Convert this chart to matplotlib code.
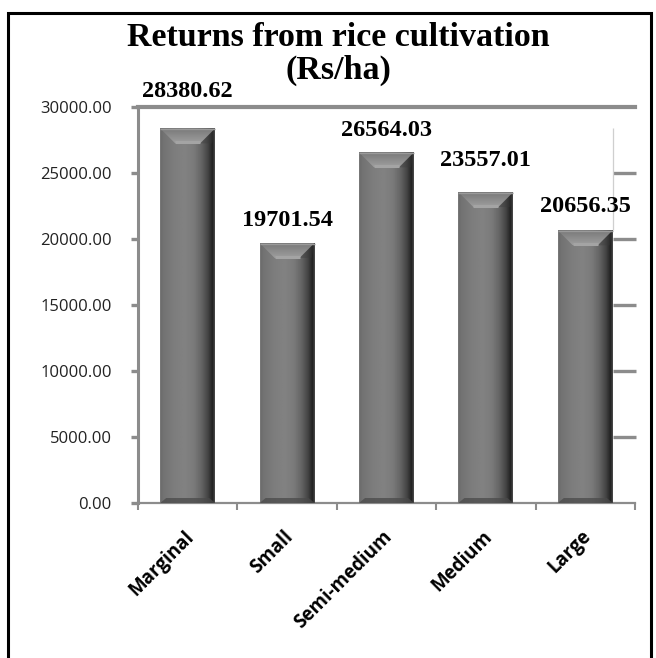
import numpy as np
import matplotlib
matplotlib.use("Agg")
import matplotlib.pyplot as plt
from matplotlib.patches import Rectangle, Polygon
from matplotlib.colors import LinearSegmentedColormap
from matplotlib.transforms import ScaledTranslation

# ---- data -------------------------------------------------------------
categories = ["Marginal", "Small", "Semi-medium", "Medium", "Large"]
returns_rs_ha = [28380.62, 19701.54, 26564.03, 23557.01, 20656.35]
y_ticks = [0, 5000, 10000, 15000, 20000, 25000, 30000]
title_lines = ["Returns from rice cultivation", "(Rs/ha)"]

# ---- styling ----------------------------------------------------------
label_gap_px = [31, 17, 16, 26, 18]     # space between value label and bar top
bar_width = 0.553
axis_grey = "#8c8c8c"
serif = ["Liberation Serif", "DejaVu Serif"]
sans = ["Open Sans", "DejaVu Sans"]

W, H, DPI = 656, 658, 100
fig = plt.figure(figsize=(W / DPI, H / DPI), dpi=DPI)
fig.patch.set_facecolor("white")

# plot area in pixels: left 138, right 635, top 107, bottom 503
ax_l, ax_r, ax_t, ax_b = 138, 635, 107, 503
ax = fig.add_axes([ax_l / W, 1 - ax_b / H, (ax_r - ax_l) / W, (ax_b - ax_t) / H])
ax.set_autoscale_on(False)
ymin, ymax = 0, 30000
xmin, xmax = -0.5, len(categories) - 0.5
ax.set_xlim(xmin, xmax)
ax.set_ylim(ymin, ymax)

px_x = (xmax - xmin) / (ax_r - ax_l)   # data units per pixel
px_y = (ymax - ymin) / (ax_b - ax_t)

x = np.arange(len(categories))
bars = ax.bar(x, returns_rs_ha, width=bar_width, color="#7a7a7a",
              edgecolor="none", zorder=2)

# horizontal shading across each bar (cylinder-like bevel)
stops = [(0.00, 0.50), (0.02, 0.42), (0.06, 0.45), (0.25, 0.49),
         (0.45, 0.51), (0.62, 0.48), (0.76, 0.39), (0.88, 0.26),
         (0.96, 0.13), (1.00, 0.30)]
grey_map = LinearSegmentedColormap.from_list("grey", ["black", "white"])
xs = np.linspace(0, 1, 200)
profile = np.interp(xs, [s[0] for s in stops], [s[1] for s in stops])
body = profile[np.newaxis, :]

top_h = 15 * px_y
top_in = 15 * px_x
bot_h = 5 * px_y
bot_in = 6 * px_x
# chamfer shading: darker at the top edge, lighter towards its lower rim
chamfer = np.linspace(0.47, 0.62, 50)[:, np.newaxis] * np.ones((1, 2))

for rect in bars:
    x0 = rect.get_x()
    x1 = x0 + rect.get_width()
    h = rect.get_height()
    im = ax.imshow(body, cmap=grey_map, vmin=0, vmax=1, aspect="auto",
                   extent=[x0, x1, 0, h], interpolation="bilinear", zorder=3)
    im.set_clip_path(rect)

    # top chamfer
    top_poly = Polygon([(x0, h), (x1, h), (x1 - top_in, h - top_h),
                        (x0 + top_in, h - top_h)], closed=True,
                       facecolor="none", edgecolor="none", zorder=4)
    ax.add_patch(top_poly)
    tim = ax.imshow(chamfer, cmap=grey_map, vmin=0, vmax=1, aspect="auto",
                    extent=[x0, x1, h - top_h, h], interpolation="bilinear",
                    zorder=4)
    tim.set_clip_path(top_poly)
    # light rim along the bottom of the chamfer
    ax.plot([x0 + top_in, x1 - top_in], [h - top_h + 1.2 * px_y] * 2,
            color="#a4a4a4", lw=2.2, solid_capstyle="butt", zorder=5)
    # right slope of chamfer, darker
    ax.add_patch(Polygon([(x1, h), (x1 - top_in, h - top_h),
                          (x1 - top_in * 0.2, h - top_h)], closed=True,
                         facecolor="#3a3a3a", alpha=0.35, edgecolor="none",
                         zorder=4))
    # thin light edge along the top
    ax.plot([x0, x1], [h - 0.6 * px_y] * 2, color="#9a9a9a", lw=1.0,
            solid_capstyle="butt", zorder=5)
    # bottom chamfer
    ax.add_patch(Polygon([(x0, 0), (x1, 0), (x1 - bot_in, bot_h),
                          (x0 + bot_in, bot_h)], closed=True,
                         facecolor="#4a4a4a", alpha=0.75, edgecolor="none",
                         zorder=4))

# value labels above the bars
for rect, val, gap in zip(bars, returns_rs_ha, label_gap_px):
    ax.annotate(f"{val:.2f}", xy=(rect.get_x() + rect.get_width() / 2, val),
                xytext=(0, gap), textcoords="offset pixels",
                ha="center", va="baseline", fontsize=17.5, fontweight="bold",
                family=serif, color="black", zorder=6, annotation_clip=False)

# axes lines
for s in ["top", "right"]:
    ax.spines[s].set_visible(False)
ax.spines["left"].set_color(axis_grey)
ax.spines["left"].set_linewidth(2.2)
ax.spines["bottom"].set_color(axis_grey)
ax.spines["bottom"].set_linewidth(1.6)
ax.axhline(30000, color=axis_grey, lw=3.0, zorder=1, clip_on=False)

ax.set_yticks(y_ticks)
ax.set_yticklabels([f"{v:.2f}" for v in y_ticks], family=sans,
                   fontsize=12, color="#222222")
ax.tick_params(axis="y", length=5, width=2.4, color=axis_grey, pad=14)

ax.set_xticks(x)
ax.set_xticklabels(categories, rotation=45, ha="right",
                   rotation_mode="anchor", family=sans, fontsize=13.5,
                   fontweight="bold", color="black")
ax.tick_params(axis="x", which="major", length=0, pad=17)
ax.set_xticks(np.arange(xmin, xmax + 0.01, 1.0), minor=True)
ax.tick_params(axis="x", which="minor", length=5, width=1.5, color=axis_grey)
for lab in ax.get_xticklabels():
    lab.set_transform(lab.get_transform() +
                      ScaledTranslation(-0.04, 0, fig.dpi_scale_trans))

# short right-hand tick stubs and the thin guide at the last bar edge
last = bars[-1]
edge = last.get_x() + last.get_width()
ax.hlines(y_ticks[1:-1], edge, xmax + 1 * px_x, color=axis_grey, lw=2.4,
          zorder=1, clip_on=False)
ax.vlines(edge, returns_rs_ha[-1], max(returns_rs_ha), color="#cfcfcf",
          lw=0.9, zorder=1)

# title, one text per line
for line, yc in zip(title_lines, [37, 70]):
    fig.text(338 / W, 1 - yc / H, line, ha="center", va="center",
             fontsize=24.5, fontweight="bold", family=serif)

# outer frame
fig.add_artist(Rectangle((8 / W, -0.05), (651 - 8) / W, 1.05 - 13 / H,
                         transform=fig.transFigure, fill=False,
                         edgecolor="black", lw=2.2))

fig.savefig("out.png", dpi=DPI)
